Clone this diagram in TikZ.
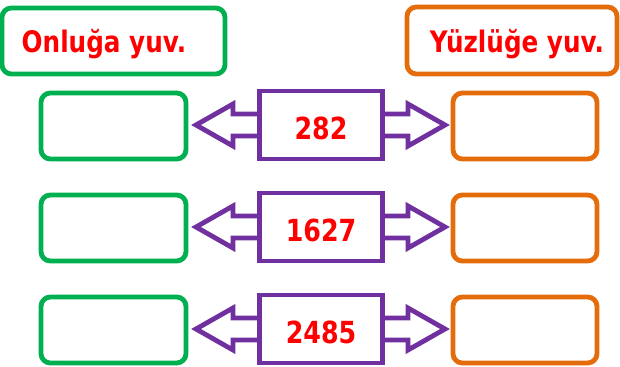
\documentclass[tikz,border=0pt]{standalone}
\usepackage{fontspec}
\usepackage{graphicx}
\setmainfont{DejaVu Sans}
\usetikzlibrary{calc}
\definecolor{gr}{HTML}{00B050}
\definecolor{org}{HTML}{E46C0A}
\definecolor{pur}{HTML}{7030A0}
\definecolor{rd}{HTML}{FF0000}
\newcommand{\tallt}[1]{\scalebox{1}[1.2]{#1}}
\begin{document}
\begin{tikzpicture}[x=0.75pt,y=-0.75pt,
  gbox/.style={draw=gr,line width=3.6pt,rounded corners=7pt,fill=white},
  obox/.style={draw=org,line width=3.6pt,rounded corners=7pt,fill=white},
  pbox/.style={draw=pur,line width=3.6pt,fill=white,minimum width=92pt,minimum height=51pt},
  num/.style={font=\bfseries\fontsize{19}{22}\selectfont,text=rd},
  arr/.style={draw=pur,line width=3.6pt,line join=miter},
  lbl/.style={font=\bfseries\fontsize{18.5}{22}\selectfont,text=rd}]
\useasboundingbox (0,0) rectangle (620,367);
% headers
\draw[gbox] (2,8) rectangle (225,74);
\node[lbl] (hl) at (104,44) {\tallt{Onluğa yuv.}};
\draw[obox] (407,7) rectangle (617,74);
\node[lbl] (hr) at (517,44) {\tallt{Yüzlüğe yuv.}};
% rows
\foreach \i/\y/\t in {1/125/282, 2/227/1627, 3/329/2485}{
  \draw[gbox] (41,\y-32) rectangle (186,\y+34);
  \draw[obox] (453,\y-32) rectangle (597,\y+34);
  \node[pbox] (c\i) at (321,\y) {};
  \node[num] (n\i) at ($(c\i.center)+(0,3)$) {\tallt{\t}};
  \coordinate (lt\i) at (196,\y);
  \coordinate (rt\i) at (445,\y);
  \draw[arr] ($(c\i.west)+(0,-11)$) -- ($(lt\i)+(37,-11)$) -- ($(lt\i)+(37,-21)$) -- (lt\i)
     -- ($(lt\i)+(37,21)$) -- ($(lt\i)+(37,11)$) -- ($(c\i.west)+(0,11)$);
  \draw[arr] ($(c\i.east)+(0,-11)$) -- ($(rt\i)+(-37,-11)$) -- ($(rt\i)+(-37,-21)$) -- (rt\i)
     -- ($(rt\i)+(-37,21)$) -- ($(rt\i)+(-37,11)$) -- ($(c\i.east)+(0,11)$);
}
\end{tikzpicture}
\end{document}
